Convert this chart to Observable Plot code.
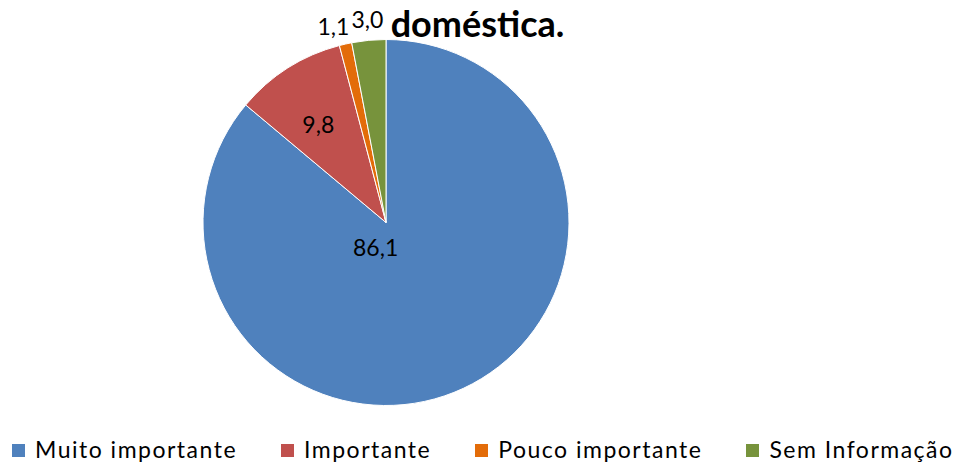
<!DOCTYPE html>
<html><head><meta charset="utf-8">
<script src="https://cdn.jsdelivr.net/npm/d3@7"></script>
<script src="https://cdn.jsdelivr.net/npm/@observablehq/plot@0.6"></script>
<style>
body{margin:0;background:#fff;font-family:Lato,"Open Sans",sans-serif;}
#chart{width:960px;height:469px;overflow:hidden;position:relative;}
.legend{display:flex;gap:44px;padding-left:12px;align-items:center;height:46px;margin-top:-4px;font-family:Lato,sans-serif;font-size:23px;letter-spacing:1.5px;color:#000;}
.legend .item{display:flex;align-items:center;}
.legend .sw{width:13px;height:13px;margin-right:10px;margin-top:2px;}
</style></head>
<body><div id="chart"></div>
<script>
const categories = ["Muito importante", "Importante", "Pouco importante", "Sem Informação"];
const values = [86.1, 9.8, 1.1, 3.0];
const valueLabels = ["86,1", "9,8", "1,1", "3,0"];
const colors = ["#4F81BD", "#C0504D", "#E36C09", "#77933C"];
// label placement (layout only): angle in degrees clockwise from 12 o'clock, radius as fraction of pie radius
const labelAngle = [203, 325, 344.8, 354.6];
const labelRadius = [0.152, 0.65, 1.107, 1.11];
const titleText = "doméstica.";

const W = 960, H = 430, cx = 386, cy = 222.5, R = 183;
const data = categories.map((c, i) => ({category: c, value: values[i], label: valueLabels[i]}));
const arcs = d3.pie().value(d => d.value).sort(null)(data);
const arcGen = d3.arc().innerRadius(0).outerRadius(R);
arcs.forEach((a, i) => {
  const ang = labelAngle[i] * Math.PI / 180;
  a.lx = cx + Math.sin(ang) * R * labelRadius[i];
  a.ly = cy - Math.cos(ang) * R * labelRadius[i];
});

function pieMark(index, scales) {
  const g = d3.create("svg:g").attr("transform", `translate(${cx},${cy})`);
  g.selectAll("path").data(arcs).join("path")
    .attr("d", arcGen)
    .attr("fill", d => scales.color(d.data.category))
    .attr("stroke", "#fff").attr("stroke-width", 1);
  return g.node();
}

const plot = Plot.plot({
  width: W, height: H,
  margin: 0,
  x: {type: "identity", axis: null},
  y: {type: "identity", axis: null},
  color: {domain: categories, range: colors},
  style: {fontFamily: "Lato, sans-serif", background: "transparent"},
  marks: [
    pieMark,
    Plot.text(arcs, {x: "lx", y: "ly", text: d => d.data.label, fontSize: 23, fill: "#000", textAnchor: "middle", lineAnchor: "middle"}),
    Plot.text([titleText], {x: () => 477, y: () => 25, text: d => d, fontSize: 36, fontWeight: "bold", fill: "#000", lineAnchor: "middle"})
  ]
});
document.getElementById("chart").appendChild(plot);

const legend = document.createElement("div");
legend.className = "legend";
categories.forEach((c, i) => {
  const it = document.createElement("div"); it.className = "item";
  const sw = document.createElement("span"); sw.className = "sw"; sw.style.background = colors[i];
  const t = document.createElement("span"); t.textContent = c;
  it.appendChild(sw); it.appendChild(t); legend.appendChild(it);
});
document.getElementById("chart").appendChild(legend);
</script></body></html>
